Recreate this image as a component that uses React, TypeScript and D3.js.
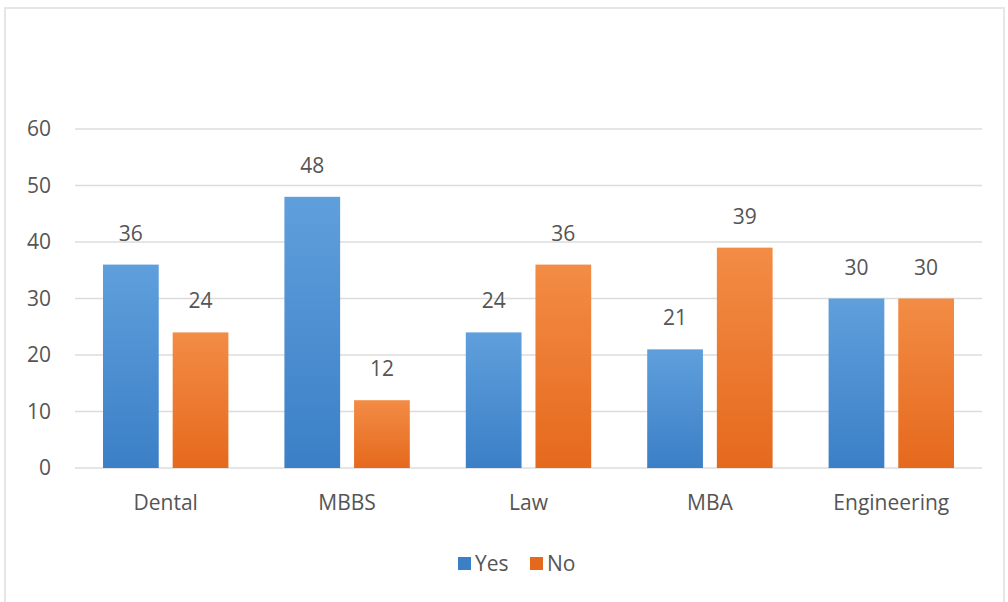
import { scaleBand, scaleLinear } from "d3";

const categories = ["Dental", "MBBS", "Law", "MBA", "Engineering"];
const seriesNames = ["Yes", "No"];
const yesValues = [36, 48, 24, 21, 30];
const noValues = [24, 12, 36, 39, 30];
const yTicks = [0, 10, 20, 30, 40, 50, 60];

const colors: Record<string, [string, string]> = {
  Yes: ["#5f9fdc", "#3b7fc6"],
  No: ["#f38c45", "#e5691d"],
};

const width = 1008;
const height = 602;
const margin = { top: 129, right: 26, bottom: 134, left: 75 };
const font = "'Open Sans', Lato, 'DejaVu Sans', sans-serif";
const textColor = "#555555";
const fontSize = 21;

export default function App() {
  const innerW = width - margin.left - margin.right;
  const innerH = height - margin.top - margin.bottom;

  const x0 = scaleBand().domain(categories).range([0, innerW]).padding(0);
  const x1 = scaleBand().domain(seriesNames).range([28, x0.bandwidth() - 28]).paddingInner(0.2).paddingOuter(0);
  const y = scaleLinear().domain([0, 60]).range([innerH, 0]);

  const values: Record<string, number[]> = { Yes: yesValues, No: noValues };

  return (
    <svg
      width={width}
      height={height}
      style={{ position: "absolute", left: 0, top: 0, background: "#fff" }}
      fontFamily={font}
    >
      <defs>
        {seriesNames.map((s) => (
          <linearGradient key={s} id={`grad-${s}`} x1="0" y1="0" x2="0" y2="1">
            <stop offset="0%" stopColor={colors[s][0]} />
            <stop offset="100%" stopColor={colors[s][1]} />
          </linearGradient>
        ))}
      </defs>
      <rect x={5} y={8} width={999} height={600} fill="#fff" stroke="#e6e6e6" strokeWidth={2} />

      <g transform={`translate(${margin.left}, ${margin.top})`}>
        {yTicks.map((t) => (
          <g key={t}>
            <line x1={0} x2={innerW} y1={y(t)} y2={y(t)} stroke="#dcdcdc" strokeWidth={1.5} />
            <text x={-24} y={y(t)} dy="0.35em" textAnchor="end" fill={textColor} fontSize={fontSize}>
              {t}
            </text>
          </g>
        ))}

        {categories.map((cat, i) => (
          <g key={cat} transform={`translate(${x0(cat) ?? 0}, 0)`}>
            {seriesNames.map((s) => {
              const v = values[s][i];
              const bx = x1(s) ?? 0;
              return (
                <g key={s}>
                  <rect
                    x={bx}
                    y={y(v)}
                    width={x1.bandwidth()}
                    height={innerH - y(v)}
                    fill={`url(#grad-${s})`}
                  />
                  <text
                    x={bx + x1.bandwidth() / 2}
                    y={y(v) - 24}
                    textAnchor="middle"
                    fill={textColor}
                    fontSize={fontSize}
                  >
                    {v}
                  </text>
                </g>
              );
            })}
            <text x={x0.bandwidth() / 2} y={innerH + 42} textAnchor="middle" fill={textColor} fontSize={fontSize}>
              {cat}
            </text>
          </g>
        ))}
      </g>

      <g transform="translate(458, 557)">
        {seriesNames.map((s, i) => (
          <g key={s} transform={`translate(${i * 72}, 0)`}>
            <rect x={0} y={0} width={13} height={13} fill={colors[s][1]} />
            <text x={17} y={7} dy="0.35em" fill={textColor} fontSize={fontSize}>
              {s}
            </text>
          </g>
        ))}
      </g>
    </svg>
  );
}
